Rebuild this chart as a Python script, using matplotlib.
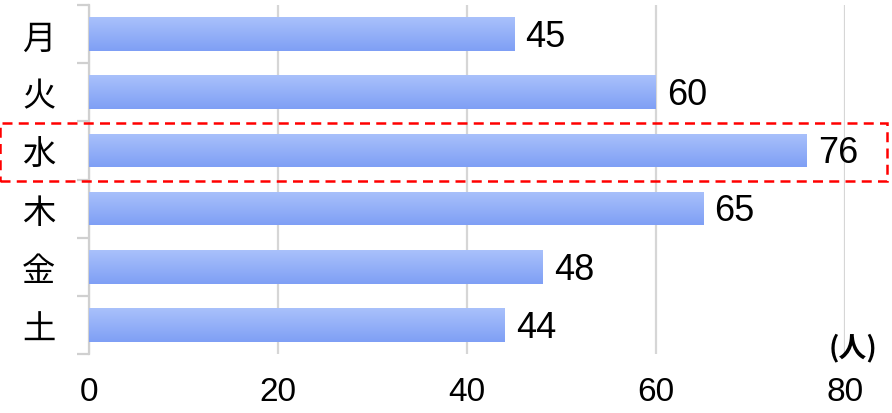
import numpy as np
import matplotlib
matplotlib.use("Agg")
import matplotlib.pyplot as plt
from matplotlib.patches import Rectangle

plt.rcParams['font.family'] = ['Liberation Sans', 'Noto Sans CJK JP', 'DejaVu Sans']

# データ
days = ["月", "火", "水", "木", "金", "土"]
visitors = [45, 60, 76, 65, 48, 44]
x_ticks = [0, 20, 40, 60, 80]
highlight_day = "水"
unit_label = "(人)"

fig = plt.figure(figsize=(8.92, 4.14), dpi=100)
ax = fig.add_axes([0.0998, 0.1425, 0.8472, 0.843])

pos = np.arange(len(days))
bar_h = 0.58
bars = ax.barh(pos, visitors, height=bar_h, color="#94b0f8", edgecolor="none", zorder=3)

# 縦方向グラデーション
grad = np.linspace(0, 1, 64).reshape(-1, 1)
cmap = matplotlib.colors.LinearSegmentedColormap.from_list("g", ["#a9c1fb", "#7f9ff5"])
for b in bars:
    x0, y0 = b.get_x(), b.get_y()
    w, h = b.get_width(), b.get_height()
    im = ax.imshow(grad, cmap=cmap, aspect="auto", extent=[x0, x0 + w, y0 + h, y0],
                   zorder=4, interpolation="bicubic")
    im.set_clip_path(b)

for p, v in zip(pos, visitors):
    ax.text(v + 1.2, p + 0.04, str(v), va="center", ha="left", fontsize=26, color="black", zorder=5)

ax.set_xlim(0, 80)
ax.set_ylim(len(days) - 0.5, -0.5)
ax.set_xticks(x_ticks)
ax.set_yticks(pos)
ax.set_yticklabels(days, fontsize=24, family=['Noto Sans CJK JP'])
ax.set_yticks(np.arange(-0.5, len(days), 1), minor=True)
ax.tick_params(axis="y", which="major", length=0, pad=24)
ax.tick_params(axis="y", which="minor", length=9, width=1.6, color="#d0d0d0")
ax.tick_params(axis="x", length=0, pad=16, labelsize=24)

ax.grid(axis="x", color="#d6d6d6", linewidth=1.6, zorder=1)
ax.set_axisbelow(True)
for s in ["top", "right", "bottom"]:
    ax.spines[s].set_visible(False)
ax.spines["left"].set_color("#d0d0d0")
ax.spines["left"].set_linewidth(1.6)

# 強調枠
hi = days.index(highlight_day)
rect = Rectangle((0.0, 1 - (182 / 414)), 887 / 892, 58 / 414, transform=fig.transFigure,
                 fill=False, edgecolor="#ff0000", linewidth=1.8, linestyle=(0, (4, 2.5)),
                 zorder=10)
fig.patches.append(rect)

fig.text(0.929, 1 - 348 / 414, unit_label, fontsize=20, fontweight="bold", ha="left", va="center",
         family=['Noto Sans CJK JP'])

fig.savefig("out.png", dpi=100)
